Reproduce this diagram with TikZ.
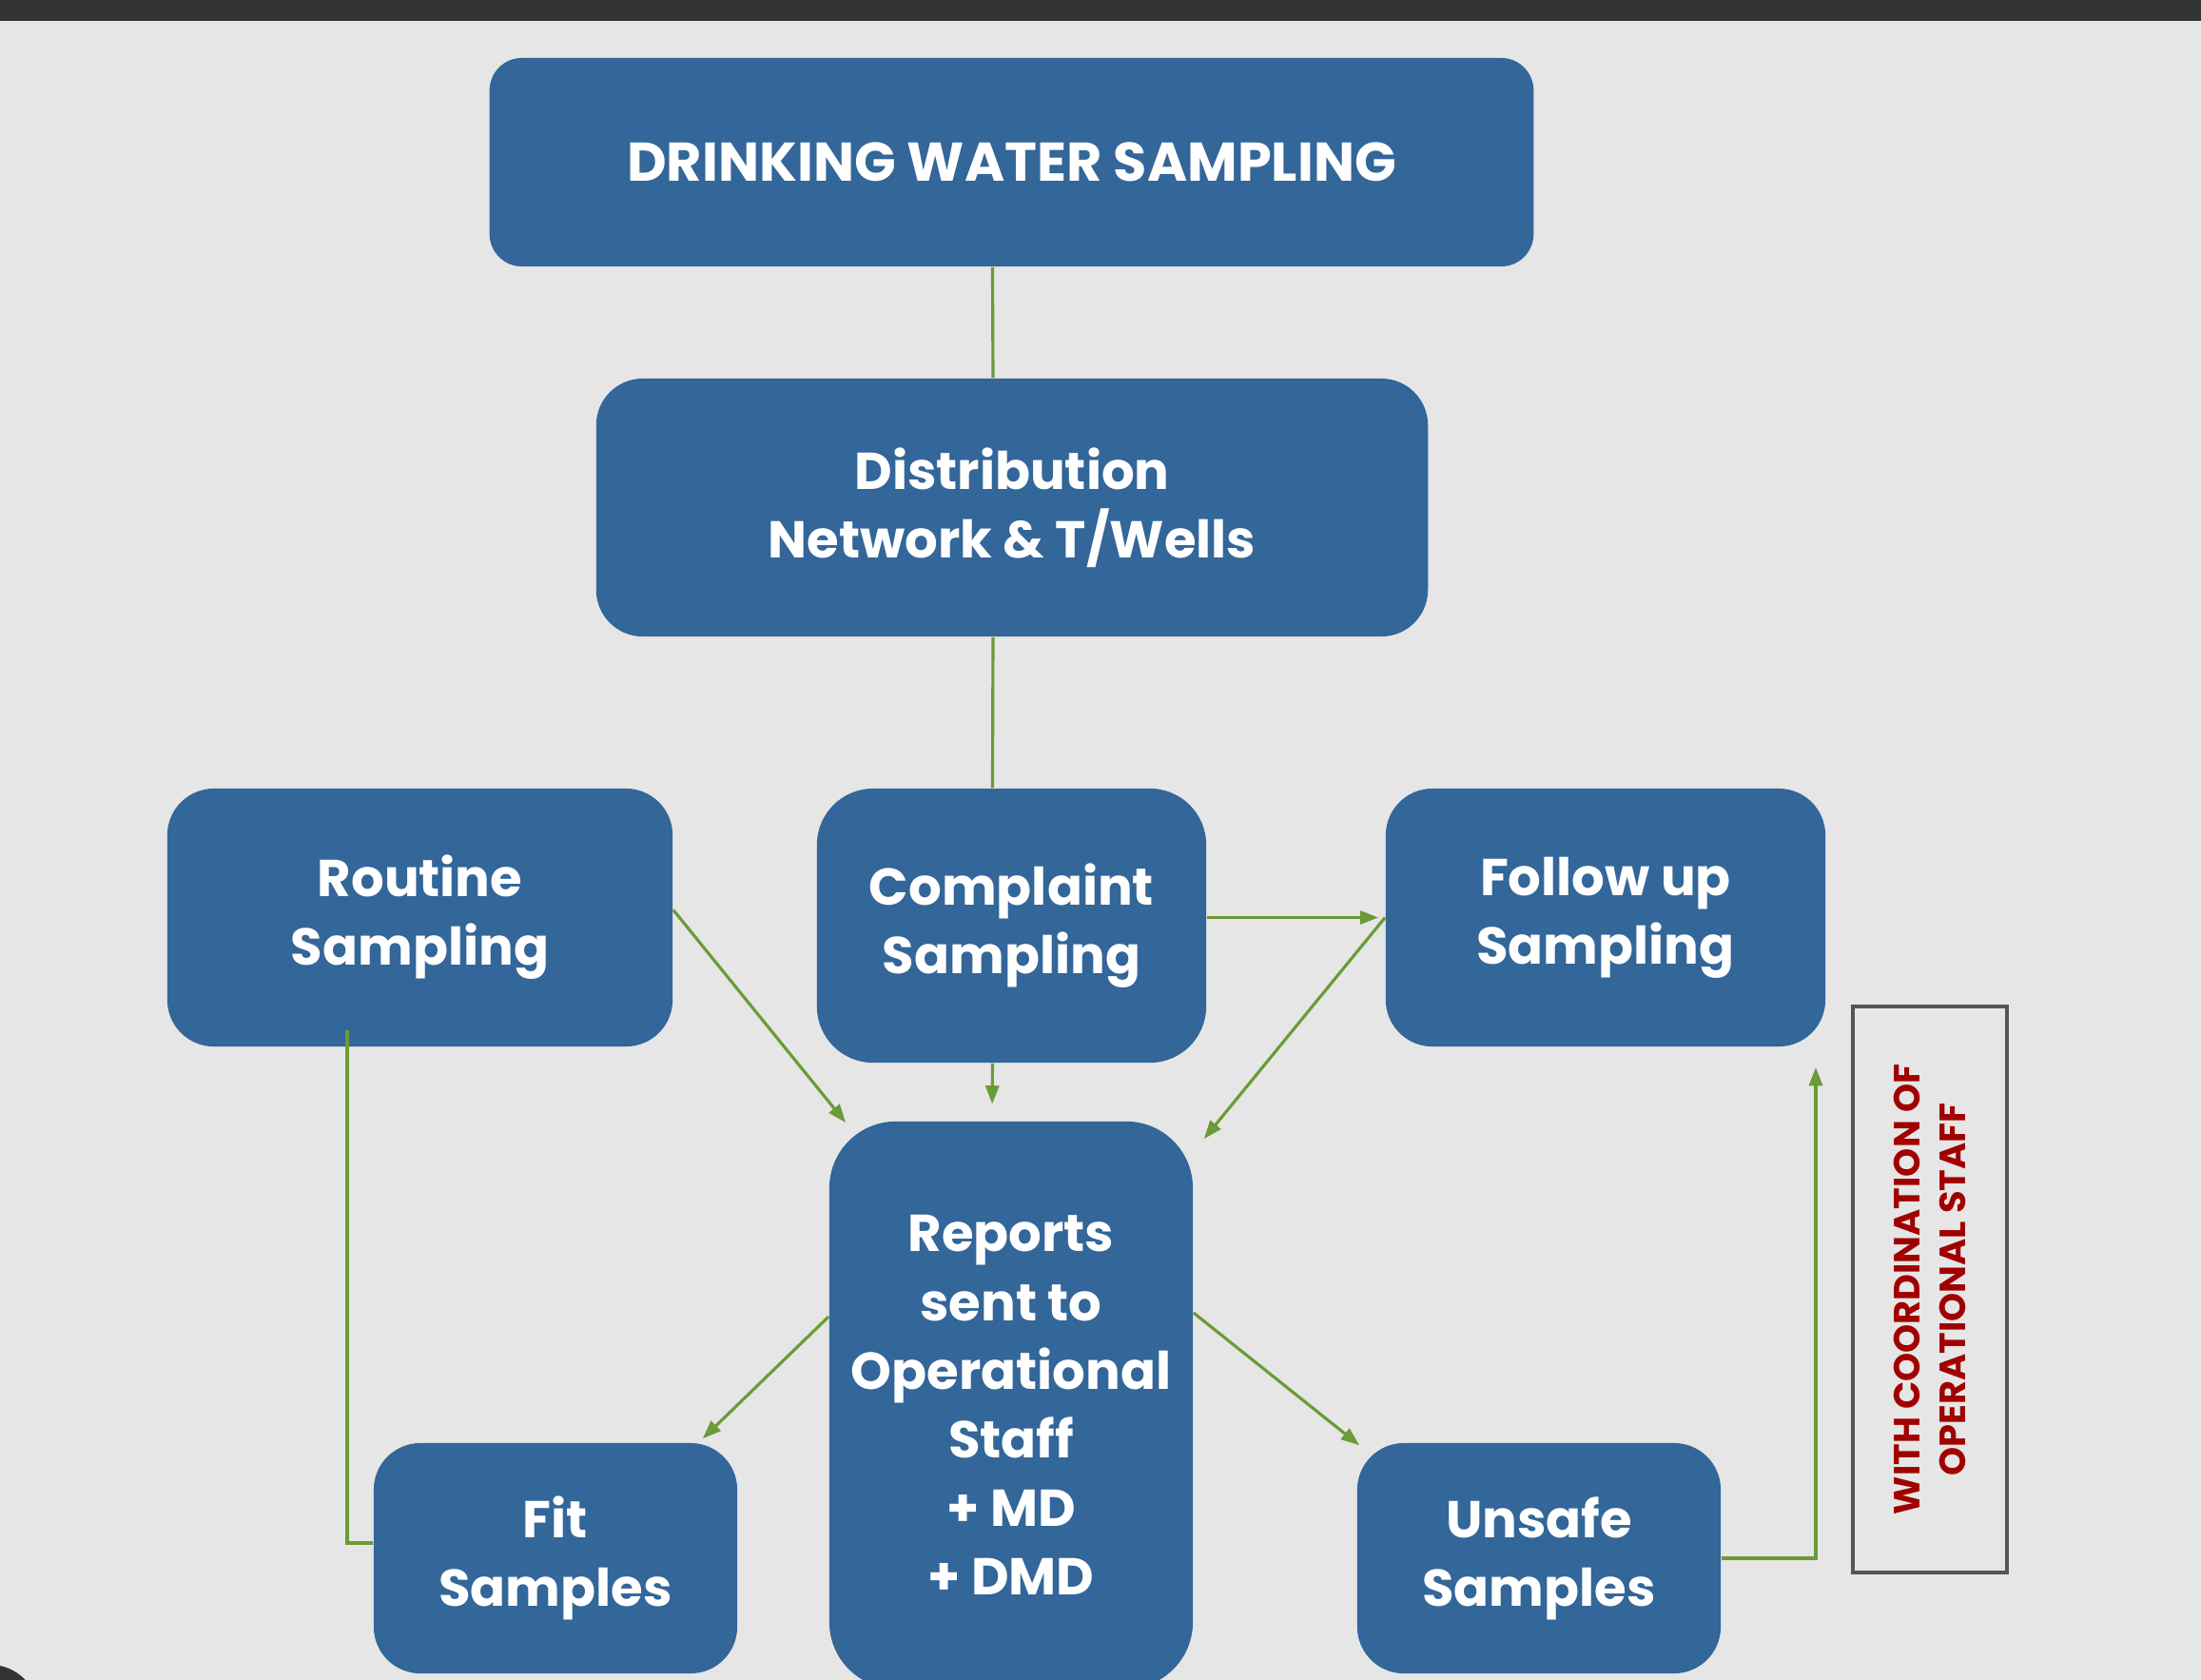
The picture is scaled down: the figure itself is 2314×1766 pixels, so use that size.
\documentclass[tikz,border=0pt]{standalone}
\usepackage{fontspec}
\setmainfont{Poppins}
\usetikzlibrary{arrows.meta}

\definecolor{boxblue}{HTML}{336699}
\definecolor{linkgreen}{HTML}{6A9B37}
\definecolor{notered}{HTML}{A00000}
\definecolor{notegray}{HTML}{555555}
\definecolor{paper}{HTML}{E6E6E6}
\definecolor{topbar}{HTML}{333333}

\begin{document}
\begin{tikzpicture}[x=0.01cm,y=-0.01cm,
    block/.style={fill=boxblue, text=white, align=center, inner sep=0pt,
        rounded corners=4.9mm, font=\bfseries\fontsize{15.5}{20.5}\selectfont},
    link/.style={draw=linkgreen, line width=0.9pt},
    arr/.style={link, -{Triangle[length=5.5pt,width=4pt]}}]

    \def\page{(0,0) rectangle (2314,1766)}

    %page and screen bits:
    \useasboundingbox \page;
    \clip \page;
    \fill[paper] \page;
    \fill[topbar] (0,0) rectangle (2314,22);
    \fill[topbar] (-10,1800) circle (50);

    %boxes:
    \node[block, minimum width=10.97cm, minimum height=2.19cm, rounded corners=3.4mm,
        font=\bfseries\fontsize{16.3}{20.5}\selectfont] (title) at (1063.5,170.5) {DRINKING WATER SAMPLING};
    \node[block, minimum width=8.74cm, minimum height=2.71cm] (network) at (1064,533.5) {Distribution\\Network \& T/Wells};
    \node[block, minimum width=5.31cm, minimum height=2.71cm] (routine) at (441.5,964.5) {Routine\\Sampling};
    \node[block, minimum width=4.09cm, minimum height=2.88cm, rounded corners=5.9mm] (complaint) at (1063.5,973) {Complaint\\Sampling};
    \node[block, minimum width=4.62cm, minimum height=2.71cm] (followup) at (1688,964.5) {Follow up\\Sampling};
    \node[block, minimum width=3.82cm, minimum height=5.96cm, rounded corners=7mm] (reports) at (1063,1477) {Reports\\sent to\\Operational\\Staff\\+ MD\\+ DMD};
    \node[block, minimum width=3.82cm, minimum height=2.42cm] (fit) at (584,1638) {Fit\\Samples};
    \node[block, minimum width=3.82cm, minimum height=2.42cm] (unsafe) at (1618,1638) {Unsafe\\Samples};

    %side note:
    \node[draw=notegray, line width=1pt, rotate=90, minimum width=5.95cm, minimum height=1.62cm,
        text=notered, align=center, font=\bfseries\fontsize{10.9}{13.7}\selectfont] (note) at (2029,1355.5) {WITH COORDINATION OF\\OPERATIONAL STAFF};

    %connectors:
    \draw[link] ([xshift=-2mm]title.south) -- ([xshift=-2mm]network.north);
    \draw[link] ([xshift=-2mm]network.south) -- ([xshift=-2mm]complaint.north);
    \draw[arr, shorten >=5pt] ([xshift=-2mm]complaint.south) -- ([xshift=-2mm]reports.north);
    \draw[arr] ([shift={(0,-8)}]routine.east) -- ([shift={(18,2)}]reports.north west);
    \draw[arr, shorten >=2pt] (complaint.east |- followup.west) -- (followup.west);
    \draw[arr] (followup.west) -- ([shift={(11,19)}]reports.north east);
    \draw[arr] ([shift={(0,-93)}]reports.west) -- ([shift={(-37,-4)}]fit.north east);
    \draw[arr] ([shift={(0,-97)}]reports.east) -- ([shift={(3,3)}]unsafe.north west);
    \draw[link] ([shift={(-76.5,-18)}]routine.south) |- ([yshift=1.6mm]fit.west);

    \coordinate (backup) at (1909,1122);
    \draw[arr] (unsafe.east) -| (backup);

\end{tikzpicture}
\end{document}
